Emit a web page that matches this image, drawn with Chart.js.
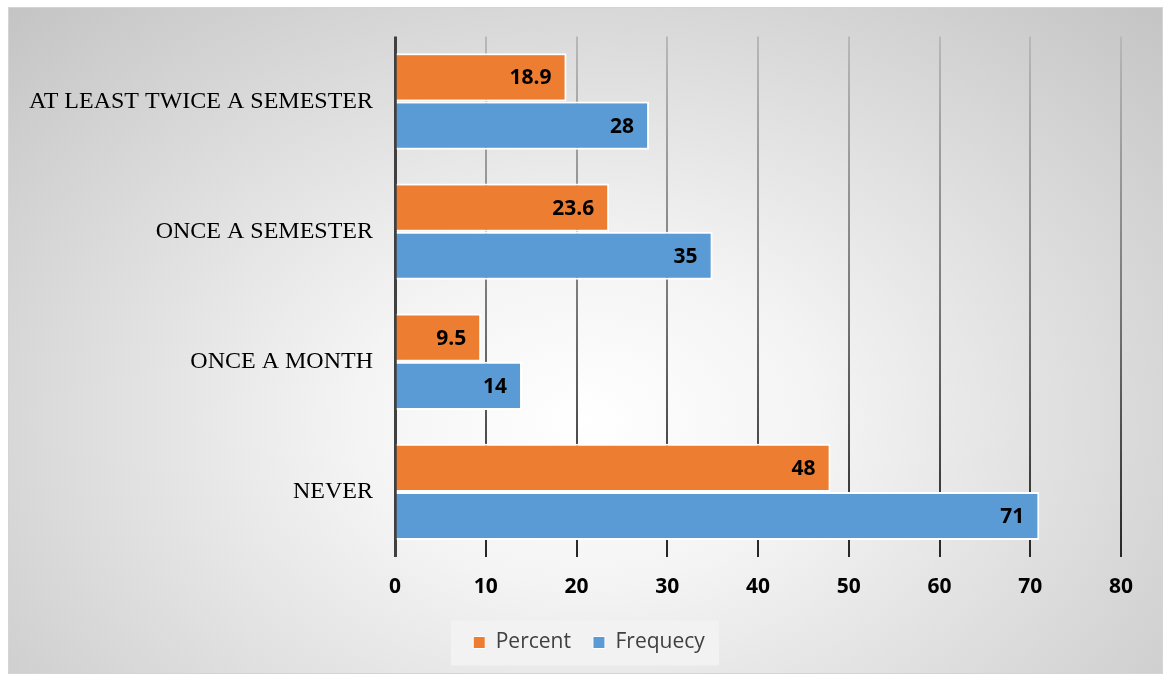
<!DOCTYPE html>
<html>
<head>
<meta charset="utf-8">
<script src="https://cdn.jsdelivr.net/npm/chart.js@4/dist/chart.umd.min.js"></script>
<style>
  html, body { margin: 0; padding: 0; background: #ffffff; }
  #frame {
    position: absolute; left: 8px; top: 7px; width: 1153px; height: 665px;
    border: 1px solid #d4d4d4;
    background: radial-gradient(ellipse farthest-corner at 50% 62%, #ffffff 0%, #f4f4f4 28%, #c4c4c4 100%);
  }
  #plot { display: block; }
</style>
</head>
<body>
<div id="frame"><canvas id="plot" width="1153" height="665"></canvas></div>
<script>
// categorias e séries
const categorias = ["AT LEAST TWICE A SEMESTER", "ONCE A SEMESTER", "ONCE A MONTH", "NEVER"];
const percent = [18.9, 23.6, 9.5, 48];
const frequecy = [28, 35, 14, 71];
const ticksX = [0, 10, 20, 30, 40, 50, 60, 70, 80];

const laranja = "#ED7D31";
const azul = "#5B9BD5";

// rótulos de valor dentro da ponta de cada barra
const rotulos = {
  id: "rotulos",
  afterDatasetsDraw(chart) {
    const ctx = chart.ctx;
    ctx.save();
    ctx.font = "bold 21px 'Open Sans'";
    ctx.fillStyle = "#000000";
    ctx.textAlign = "right";
    ctx.textBaseline = "middle";
    chart.data.datasets.forEach((ds, i) => {
      chart.getDatasetMeta(i).data.forEach((bar, j) => {
        ctx.fillText(String(ds.data[j]), bar.x - 15, bar.y + 1);
      });
    });
    ctx.restore();
  },
};

// legenda: desloca para o centro do quadro e pinta o fundo cinza claro
const fundoLegenda = {
  id: "fundoLegenda",
  afterLayout(chart) {
    const lg = chart.legend;
    if (!lg) return;
    lg.left += 24;
    lg.right += 24;
    if (lg.legendHitBoxes) lg.legendHitBoxes.forEach(b => { b.left += 24; });
  },
  beforeDraw(chart) {
    const lg = chart.legend;
    if (!lg || !lg.legendHitBoxes || !lg.legendHitBoxes.length) return;
    const boxes = lg.legendHitBoxes;
    const esq = Math.min(...boxes.map(b => b.left));
    const dir = Math.max(...boxes.map(b => b.left + b.width));
    const meio = (esq + dir) / 2 - 4;
    const cy = boxes[0].top + boxes[0].height / 2;
    const ctx = chart.ctx;
    ctx.save();
    ctx.fillStyle = "#f2f2f2";
    ctx.fillRect(meio - 134, cy - 22, 268, 45);
    ctx.restore();
  },
};

// grade vertical: clara no topo e escura embaixo
function corGrade(context) {
  const chart = context.chart;
  const area = chart.chartArea;
  if (!area) return "#808080";
  if (context.index === 0) return "#404040";
  const g = chart.ctx.createLinearGradient(0, area.top, 0, area.bottom);
  g.addColorStop(0, "#b8b8b8");
  g.addColorStop(0.5, "#7a7a7a");
  g.addColorStop(1, "#262626");
  return g;
}

new Chart(document.getElementById("plot"), {
  type: "bar",
  data: {
    labels: categorias,
    datasets: [
      {
        label: "Percent",
        data: percent,
        backgroundColor: laranja,
        borderColor: "#ffffff",
        borderWidth: 2,
        categoryPercentage: 0.74,
        barPercentage: 1.0,
      },
      {
        label: "Frequecy",
        data: frequecy,
        backgroundColor: azul,
        borderColor: "#ffffff",
        borderWidth: 2,
        categoryPercentage: 0.74,
        barPercentage: 1.0,
      },
    ],
  },
  options: {
    indexAxis: "y",
    responsive: false,
    animation: false,
    layout: { padding: { top: 22, right: 41, left: 0, bottom: 10 } },
    scales: {
      x: {
        min: 0,
        max: 80,
        afterBuildTicks: (scale) => { scale.ticks = ticksX.map(v => ({ value: v })); },
        border: { display: false },
        grid: {
          color: corGrade,
          lineWidth: (c) => (c.index === 0 ? 3 : 2),
          drawTicks: false,
        },
        ticks: {
          color: "#000000",
          font: { family: "'Open Sans'", size: 21, weight: "bold" },
          padding: 17,
        },
        afterFit: (scale) => { scale.height = 53; },
      },
      y: {
        border: { display: false },
        grid: { display: false },
        ticks: {
          color: "#000000",
          font: { family: "'Liberation Serif'", size: 24 },
          padding: 14,
        },
        afterFit: (scale) => { scale.width = 386; },
      },
    },
    plugins: {
      legend: {
        position: "bottom",
        labels: {
          boxWidth: 12,
          boxHeight: 12,
          padding: 22,
          color: "#404040",
          font: { family: "'Open Sans'", size: 21 },
          generateLabels: (chart) => chart.data.datasets.map((ds, i) => ({
            text: ds.label,
            fillStyle: ds.backgroundColor,
            strokeStyle: "#ffffff",
            lineWidth: 1,
            datasetIndex: i,
            fontColor: "#404040",
          })),
        },
      },
      tooltip: { enabled: false },
    },
  },
  plugins: [rotulos, fundoLegenda],
});
</script>
</body>
</html>
